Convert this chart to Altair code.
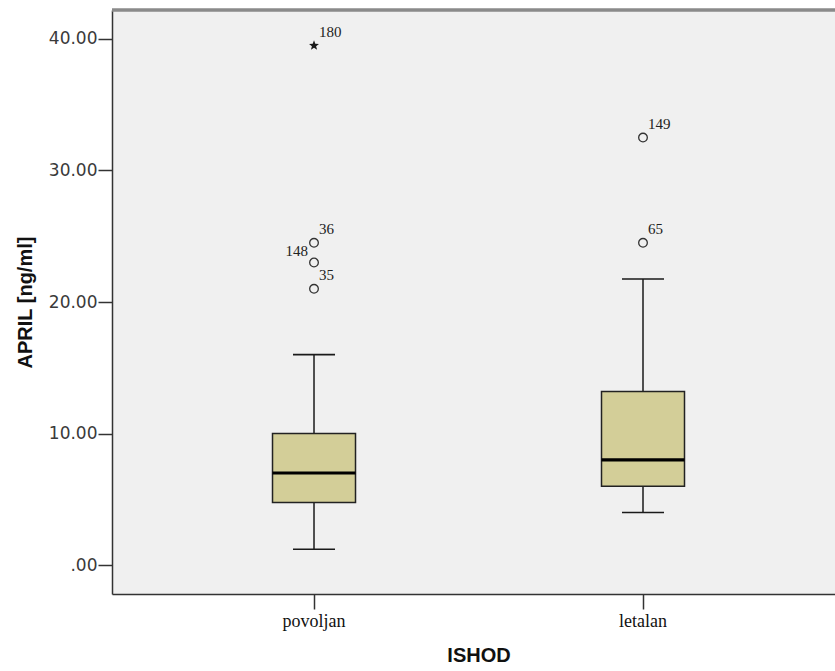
import math
import altair as alt
import pandas as pd

# Box summaries per outcome group
categories = ["povoljan", "letalan"]
whisker_low = [1.2, 4.0]
q1 = [4.75, 6.0]
median = [7.0, 8.0]
q3 = [10.0, 13.2]
whisker_high = [16.0, 21.75]

# Outliers with case numbers
outlier_group = ["povoljan", "povoljan", "povoljan", "povoljan", "letalan", "letalan"]
outlier_value = [39.5, 24.5, 23.0, 21.0, 32.5, 24.5]
outlier_case = ["180", "36", "148", "35", "149", "65"]
outlier_kind = ["extreme", "mild", "mild", "mild", "mild", "mild"]
label_side = ["right", "right", "left", "right", "right", "right"]

y_ticks = [0, 10, 20, 30, 40]

boxes = pd.DataFrame({
    "ISHOD": categories, "lo": whisker_low, "q1": q1,
    "med": median, "q3": q3, "hi": whisker_high,
})
outliers = pd.DataFrame({
    "ISHOD": outlier_group, "val": outlier_value, "case": outlier_case,
    "kind": outlier_kind, "side": label_side,
})

# five-pointed star symbol for extreme values
pts = []
for i in range(10):
    r = 1.0 if i % 2 == 0 else 0.42
    a = -math.pi / 2 + i * math.pi / 5
    pts.append(f"{r * math.cos(a):.3f},{r * math.sin(a):.3f}")
star_path = "M" + "L".join(pts) + "Z"

PLOT_W, PLOT_H = 723, 584
box_fill = "#D3CE98"
ink = "#1a1a1a"

x_scale = alt.Scale(domain=categories, paddingInner=0, paddingOuter=0.0988, align=0.577)
y_scale = alt.Scale(domain=[-2.2, 42.2], nice=False, zero=False)

x_enc = alt.X(
    "ISHOD:N", scale=x_scale, sort=categories,
    axis=alt.Axis(
        title="ISHOD", labelAngle=0, labelFont="Liberation Serif", labelFontSize=18,
        labelColor="#111111", labelPadding=3, tickSize=15, tickWidth=1.5, tickColor="#333333",
        domainColor="#333333", domainWidth=1.5, titleFont="Liberation Sans",
        titleFontSize=20, titleFontWeight="bold", titleColor="#111111",
        titleX=366.5, titleY=61, titleBaseline="middle", titleAlign="center", grid=False,
    ),
)
y_axis = alt.Axis(
    title="APRIL [ng/ml]", values=y_ticks,
    labelExpr="datum.value == 0 ? '.00' : format(datum.value, '.2f')",
    labelFont="DejaVu Sans", labelFontSize=17, labelColor="#3a3a3a", labelPadding=1,
    tickSize=14, tickWidth=1.5, tickColor="#333333", domainColor="#333333", domainWidth=1.5,
    titleFont="Liberation Sans", titleFontSize=20, titleFontWeight="bold", titleColor="#111111",
    titleAngle=270, titleX=-87, titleY=292, titleBaseline="middle", titleAlign="center", grid=False,
)

base = alt.Chart(boxes)

whisker = base.mark_rule(color=ink, strokeWidth=1.5).encode(
    x=x_enc, y=alt.Y("lo:Q", scale=y_scale, axis=y_axis), y2="hi:Q"
)
box = base.mark_bar(size=83, fill=box_fill, stroke="#222222", strokeWidth=1.5).encode(
    x=alt.X("ISHOD:N", sort=categories), y="q1:Q", y2="q3:Q"
)
med = base.mark_tick(size=83, thickness=3.2, color="#000000", opacity=1).encode(
    x=alt.X("ISHOD:N", sort=categories), y="med:Q"
)
cap_lo = base.mark_tick(size=42, thickness=1.6, color=ink, opacity=1).encode(
    x=alt.X("ISHOD:N", sort=categories), y="lo:Q"
)
cap_hi = base.mark_tick(size=42, thickness=1.6, color=ink, opacity=1).encode(
    x=alt.X("ISHOD:N", sort=categories), y="hi:Q"
)

out_base = alt.Chart(outliers)
mild = out_base.transform_filter("datum.kind == 'mild'").mark_point(
    shape="circle", size=75, filled=False, stroke="#333333", strokeWidth=1.3, opacity=1
).encode(x=alt.X("ISHOD:N", sort=categories), y="val:Q")
extreme = out_base.transform_filter("datum.kind == 'extreme'").mark_point(
    shape=star_path, size=110, filled=True, fill="#1a1a1a", strokeWidth=0, opacity=1
).encode(x=alt.X("ISHOD:N", sort=categories), y="val:Q")

label_right = out_base.transform_filter("datum.side == 'right'").mark_text(
    align="left", baseline="middle", dx=5, dy=-14, font="Liberation Serif",
    fontSize=15, color="#222222"
).encode(x=alt.X("ISHOD:N", sort=categories), y="val:Q", text="case:N")
label_left = out_base.transform_filter("datum.side == 'left'").mark_text(
    align="right", baseline="middle", dx=-6, dy=-12, font="Liberation Serif",
    fontSize=15, color="#222222"
).encode(x=alt.X("ISHOD:N", sort=categories), y="val:Q", text="case:N")

# upper frame line of the plot area
top_border = alt.Chart(boxes).mark_rule(color="#8a8a8a", strokeWidth=3).encode(
    x=alt.value(0), x2=alt.value(PLOT_W), y=alt.value(0)
)

chart = alt.layer(
    whisker, box, med, cap_lo, cap_hi, mild, extreme, label_right, label_left, top_border
).properties(
    width=PLOT_W, height=PLOT_H,
    autosize=alt.AutoSizeParams(type="none"),
    padding={"left": 112, "top": 10, "right": 0, "bottom": 77},
    background="#FFFFFF",
).configure_view(stroke=None, fill="#F0F0F0")

chart.save("out.html", embed_options={"renderer": "svg", "actions": False})
